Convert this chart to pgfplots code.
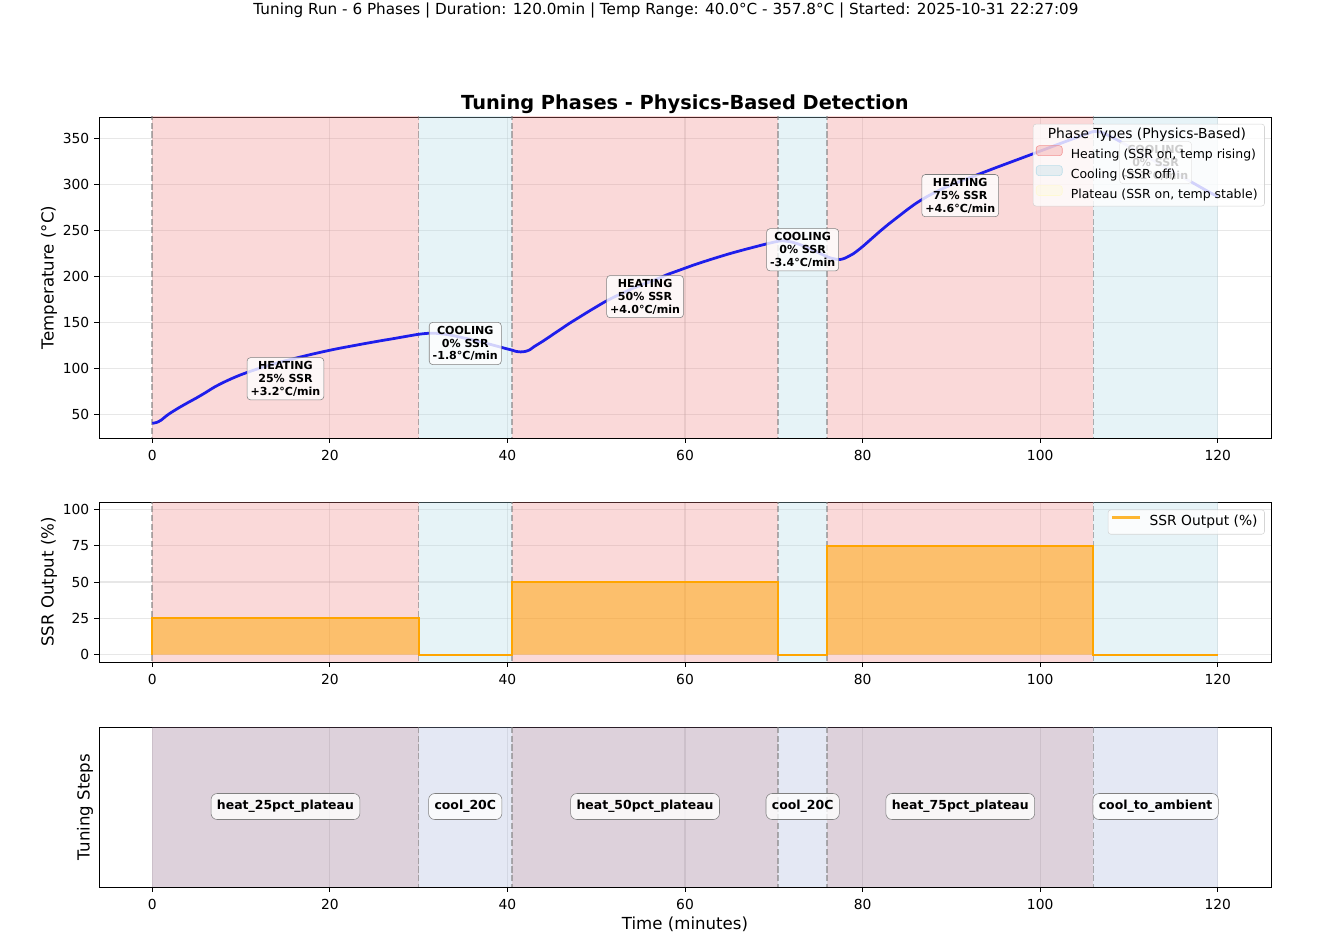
\documentclass[border=0pt]{standalone}
\usepackage{pgfplots}
\pgfplotsset{compat=1.18}
\usepackage{pgfplotstable}
\usepackage{fontspec}
\setmainfont{DejaVu Sans}
\definecolor{heatc}{RGB}{240,128,128}
\definecolor{coolc}{RGB}{173,216,230}
\definecolor{platc}{RGB}{255,250,205}
\definecolor{bheat}{RGB}{142,102,135}
\definecolor{bcool}{RGB}{165,178,218}
\definecolor{tempc}{RGB}{30,30,235}
\definecolor{ssrc}{RGB}{255,165,0}
\definecolor{gridc}{RGB}{176,176,176}
\definecolor{vlinec}{RGB}{128,128,128}
\definecolor{legc}{RGB}{204,204,204}

\pgfplotstableread{
t T
0 40
0.5 41
1 43.5
1.5 47.5
2 51
3 57
4 62.5
5 67.8
6 73.5
7 79.5
8 84.5
9 89
10 93
11 96.5
12 99.7
13 102.7
14 105.5
15 108.2
16 110.6
17 113
18 115.3
19 117.5
20 119.6
21 121.6
22 123.4
23 125.2
24 127
25 128.7
26 130.4
27 132
28 133.7
29 135.4
30 137
31 138
32 138
33 137
34 135.3
35 133.2
36 131
37 128.6
38 126.2
39 123.6
40 121
40.5 119.8
41 118.3
41.5 117.8
42 118.3
42.5 120
43 123.5
44 129.5
45 136
46 142.5
47 149
48 155
49 161
50 166.8
51 172.5
52 177.5
53 182
54 186.5
55 190.5
56 194
57 197.8
58 202
59 205.5
60 209
61 212.5
62 215.7
63 218.8
64 221.8
65 224.7
66 227.4
67 230
68 232.5
69 235
70 237.3
70.5 238.3
71 238.8
72 237.5
73 234.5
74 230.5
75 226
76 221.5
76.5 219.8
77 218.8
77.5 218.5
78 219.8
79 225
80 232.5
81 241
82 249.5
83 257.5
84 265
85 272.5
86 279.5
87 285.5
88 290.8
89 295.5
90 299.8
91 303.6
92 307.3
93 311
94 314.7
95 318.4
96 322
97 325.6
98 329.2
99 332.8
100 336.5
101 340.1
102 343.8
103 347.4
104 351
105 354.5
106 357.8
106.5 357.6
107 356.6
108 352
109 347
110 341.5
111 336
112 330.5
113 325
114 319.5
115 314
116 308.5
117 303
118 297.5
119 292
120 287
}\temptable

\pgfplotsset{
 base/.style={
  scale only axis, width=847pt, xmin=-6, xmax=126, xtick={0,20,...,120},
  axis line style={line width=0.6pt},
  tick style={line width=0.7pt, black},
  major tick length=3.5pt, tick align=outside, xtick pos=bottom, ytick pos=left,
  grid=major, major grid style={line width=0.8pt, draw=gridc, draw opacity=0.3},
  tick label style={font=\fontsize{10}{12}\selectfont},
  xticklabel style={yshift=-1.5pt},
  /pgf/number format/assume math mode=true,
  clip=true,
 },
 span/.style={forget plot, draw=none, fill=#1, fill opacity=0.3},
 vl/.style={forget plot, draw=vlinec, draw opacity=0.6, line width=1.2pt, dash pattern=on 4.4pt off 1.9pt},
}
\tikzset{
 annot/.style={draw=gray, fill=white, fill opacity=0.8, text opacity=1, rounded corners=2.4pt, align=center, inner xsep=2.5pt, inner ysep=2.6pt, font=\bfseries\fontsize{8}{9.3}\selectfont},
 slab/.style={draw=gray, fill=white, fill opacity=0.8, text opacity=1, rounded corners=4.5pt, inner xsep=4.3pt, inner ysep=4.6pt, text height=7.2pt, text depth=2.4pt, font=\bfseries\fontsize{9}{10}\selectfont},
}

\begin{document}
\begin{tikzpicture}
\useasboundingbox (0,0) rectangle (961.9pt,675.7pt);

% ---------------- top axis ----------------
\begin{axis}[base, at={(71.55pt,359.2pt)}, anchor=south west, height=232pt,
  ymin=24.11, ymax=373.69, ytick={50,100,...,350},
  legend cell align=left,
  legend style={at={(1,1)}, anchor=north east, xshift=-4.5pt, yshift=-5pt,
    fill=white, fill opacity=0.8, draw=legc, draw opacity=0.8, text opacity=1,
    rounded corners=2pt, font=\fontsize{9}{11}\selectfont,
    inner xsep=2pt, inner ysep=1.5pt, row sep=0.9pt,
    nodes={inner xsep=3pt, inner ysep=1.6pt, text height=7.6pt, text depth=2.2pt}},
]
\addplot[span=heatc] coordinates {(0,0)(0,400)(30,400)(30,0)};
\addplot[span=coolc] coordinates {(30,0)(30,400)(40.5,400)(40.5,0)};
\addplot[span=heatc] coordinates {(40.5,0)(40.5,400)(70.5,400)(70.5,0)};
\addplot[span=coolc] coordinates {(70.5,0)(70.5,400)(76,400)(76,0)};
\addplot[span=heatc] coordinates {(76,0)(76,400)(106,400)(106,0)};
\addplot[span=coolc] coordinates {(106,0)(106,400)(120,400)(120,0)};
\addplot[vl] coordinates {(0,0)(0,400)};
\addplot[vl] coordinates {(30,0)(30,400)};
\addplot[vl] coordinates {(40.5,0)(40.5,400)};
\addplot[vl] coordinates {(70.5,0)(70.5,400)};
\addplot[vl] coordinates {(76,0)(76,400)};
\addplot[vl] coordinates {(106,0)(106,400)};
\addplot[forget plot, tempc, line width=2pt, line join=round, smooth, tension=0.4] table[x=t,y=T]{\temptable};
\node[annot] at (axis cs:15,88.6) {HEATING\\25\% SSR\\+3.2°C/min};
\node[annot] at (axis cs:35.25,127) {COOLING\\0\% SSR\\-1.8°C/min};
\node[annot] at (axis cs:55.5,178) {HEATING\\50\% SSR\\+4.0°C/min};
\node[annot] at (axis cs:73.25,229) {COOLING\\0\% SSR\\-3.4°C/min};
\node[annot] at (axis cs:91,288) {HEATING\\75\% SSR\\+4.6°C/min};
\node[annot] at (axis cs:113,324) {COOLING\\0\% SSR\\-5.1°C/min};
\addlegendimage{empty legend}
\addlegendentry{\fontsize{10}{12}\selectfont\hspace{-16.6pt}Phase Types (Physics-Based)}
\addlegendimage{legend image code/.code={\fill[heatc, fill opacity=0.3] (0pt,-0.4pt) rectangle (18.8pt,6.8pt); \path (21.8pt,0pt);}}
\addlegendentry{Heating (SSR on, temp rising)}
\addlegendimage{legend image code/.code={\fill[coolc, fill opacity=0.3] (0pt,-0.4pt) rectangle (18.8pt,6.8pt); \path (21.8pt,0pt);}}
\addlegendentry{Cooling (SSR off)}
\addlegendimage{legend image code/.code={\fill[platc, fill opacity=0.3] (0pt,-0.4pt) rectangle (18.8pt,6.8pt); \path (21.8pt,0pt);}}
\addlegendentry{Plateau (SSR on, temp stable)}
\end{axis}

% ---------------- middle axis ----------------
\begin{axis}[base, at={(71.55pt,197.3pt)}, anchor=south west, height=115.6pt,
  ymin=-5, ymax=105, ytick={0,25,50,75,100},
  legend cell align=left,
  legend style={at={(1,1)}, anchor=north east, xshift=-4.5pt, yshift=-5.5pt,
    fill=white, fill opacity=0.8, draw=legc, draw opacity=0.8, text opacity=1,
    rounded corners=2pt, font=\fontsize{10}{12}\selectfont,
    inner xsep=2pt, inner ysep=2.3pt,
    nodes={inner xsep=3pt, inner ysep=1.6pt, text height=7.6pt, text depth=2.2pt}},
  legend image code/.code={\draw[#1, line width=1.5pt] (0pt,3.3pt) -- (20pt,3.3pt); \path (23.5pt,0pt);},
]
\addplot[span=heatc] coordinates {(0,-10)(0,110)(30,110)(30,-10)};
\addplot[span=coolc] coordinates {(30,-10)(30,110)(40.5,110)(40.5,-10)};
\addplot[span=heatc] coordinates {(40.5,-10)(40.5,110)(70.5,110)(70.5,-10)};
\addplot[span=coolc] coordinates {(70.5,-10)(70.5,110)(76,110)(76,-10)};
\addplot[span=heatc] coordinates {(76,-10)(76,110)(106,110)(106,-10)};
\addplot[span=coolc] coordinates {(106,-10)(106,110)(120,110)(120,-10)};
\addplot[vl] coordinates {(0,-10)(0,110)};
\addplot[vl] coordinates {(30,-10)(30,110)};
\addplot[vl] coordinates {(40.5,-10)(40.5,110)};
\addplot[vl] coordinates {(70.5,-10)(70.5,110)};
\addplot[vl] coordinates {(76,-10)(76,110)};
\addplot[vl] coordinates {(106,-10)(106,110)};
\addplot[forget plot, draw=none, fill=ssrc, fill opacity=0.5] coordinates {(0,0)(0,25)(30,25)(30,0)(40.5,0)(40.5,50)(70.5,50)(70.5,0)(76,0)(76,75)(106,75)(106,0)(120,0)};
\addplot[ssrc, line width=1.5pt, line join=miter] coordinates {(0,0)(0,25)(30,25)(30,0)(40.5,0)(40.5,50)(70.5,50)(70.5,0)(76,0)(76,75)(106,75)(106,0)(120,0)};
\addlegendentry{SSR Output (\%)}
\end{axis}

% ---------------- bottom axis ----------------
\begin{axis}[base, at={(71.55pt,34.69pt)}, anchor=south west, height=115.6pt,
  ymin=0, ymax=1, ytick=\empty,
]
\addplot[span=bheat] coordinates {(0,-1)(0,2)(30,2)(30,-1)};
\addplot[span=bcool] coordinates {(30,-1)(30,2)(40.5,2)(40.5,-1)};
\addplot[span=bheat] coordinates {(40.5,-1)(40.5,2)(70.5,2)(70.5,-1)};
\addplot[span=bcool] coordinates {(70.5,-1)(70.5,2)(76,2)(76,-1)};
\addplot[span=bheat] coordinates {(76,-1)(76,2)(106,2)(106,-1)};
\addplot[span=bcool] coordinates {(106,-1)(106,2)(120,2)(120,-1)};
\addplot[vl] coordinates {(30,-1)(30,2)};
\addplot[vl] coordinates {(40.5,-1)(40.5,2)};
\addplot[vl] coordinates {(70.5,-1)(70.5,2)};
\addplot[vl] coordinates {(76,-1)(76,2)};
\addplot[vl] coordinates {(106,-1)(106,2)};
\node[slab] at (axis cs:15,0.503) {heat\_25pct\_plateau};
\node[slab] at (axis cs:35.25,0.503) {cool\_20C};
\node[slab] at (axis cs:55.5,0.503) {heat\_50pct\_plateau};
\node[slab] at (axis cs:73.25,0.503) {cool\_20C};
\node[slab] at (axis cs:91,0.503) {heat\_75pct\_plateau};
\node[slab] at (axis cs:113,0.503) {cool\_to\_ambient};
\end{axis}

% ---------------- texts ----------------
\begin{scope}[x=0.7227pt, y=-0.7227pt, yshift=675.7pt]
\node[anchor=base, font=\fontsize{11}{13}\selectfont, inner sep=0pt] at (666,14.5) {Tuning Run - 6 Phases | Duration: 120.0min | Temp Range: 40.0°C - 357.8°C | Started: 2025-10-31 22:27:09};
\node[anchor=base, font=\bfseries\fontsize{14}{16}\selectfont, inner sep=0pt] at (685,110) {Tuning Phases - Physics-Based Detection};
\node[rotate=90, font=\fontsize{12}{14}\selectfont, inner sep=0pt] at (49,277.5) {Temperature (°C)};
\node[rotate=90, font=\fontsize{12}{14}\selectfont, inner sep=0pt] at (49,582) {SSR Output (\%)};
\node[rotate=90, font=\fontsize{12}{14}\selectfont, inner sep=0pt] at (85,807) {Tuning Steps};
\node[font=\fontsize{12}{14}\selectfont, inner sep=0pt] at (685,924) {Time (minutes)};
\end{scope}
\end{tikzpicture}
\end{document}
